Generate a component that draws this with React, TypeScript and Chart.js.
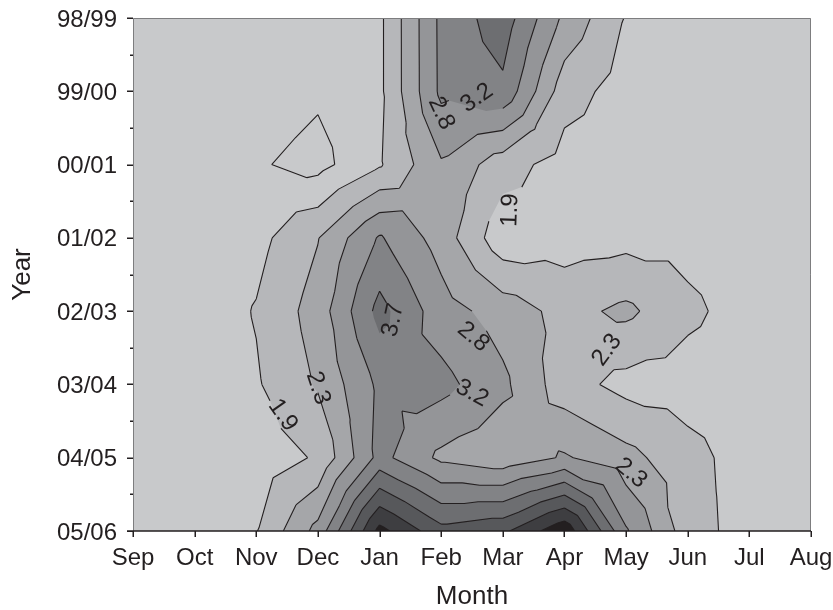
import React, { useEffect, useRef } from 'react';
import { Chart, registerables } from 'chart.js';

Chart.register(...registerables);

// Month categories (x) and season tick labels (y)
const months = ['Sep', 'Oct', 'Nov', 'Dec', 'Jan', 'Feb', 'Mar', 'Apr', 'May', 'Jun', 'Jul', 'Aug'];
const years = ['98/99', '99/00', '00/01', '01/02', '02/03', '03/04', '04/05', '05/06'];

const z9899 = [1.6, 1.6, 1.65, 1.7, 1.8, 3.36, 3.95, 2.7, 1.87, 1.7, 1.65, 1.6];
const z9900 = [1.65, 1.65, 1.7, 1.52, 1.8, 3.35, 3.6, 2.1, 1.7, 1.65, 1.6, 1.6];
const z0001 = [1.65, 1.6, 1.5, 1.3, 1.85, 2.75, 2.1, 1.7, 1.65, 1.6, 1.6, 1.6];
const z0102 = [1.65, 1.6, 1.75, 2.33, 3.3, 2.6, 1.6, 1.7, 1.75, 1.75, 1.65, 1.6];
const z0203 = [1.6, 1.6, 1.93, 2.55, 3.85, 3.0, 2.6, 2.2, 2.45, 2.0, 1.7, 1.6];
const z0304 = [1.6, 1.6, 1.85, 2.4, 3.35, 3.4, 2.9, 2.1, 1.75, 1.7, 1.65, 1.6];
const z0405 = [1.6, 1.6, 1.65, 1.95, 3.4, 2.7, 2.5, 2.85, 2.5, 2.05, 1.7, 1.6];
const z0506 = [1.6, 1.65, 1.88, 2.95, 5.2, 4.3, 4.5, 5.4, 3.3, 2.1, 1.7, 1.6];
const zRows = [z9899, z9900, z0001, z0102, z0203, z0304, z0405, z0506];

// Contour levels and the fill colour of each band (index = levels passed)
const contourLevels = [1.45, 1.9, 2.35, 2.8, 3.25, 3.7, 4.15, 4.6, 5.05];
const bandColors = ['#c8c9cb', '#c8c9cb', '#b6b7ba', '#a5a6a9', '#949598', '#828386', '#6d6e71', '#57585b', '#3e3e41', '#231f20'];

// Contour labels: text, level, position in (month index, season index), angle
const labelTexts = ['1.9', '2.3', '3.7', '2.8', '3.2', '1.9', '2.8', '3.2', '2.3', '2.3'];
const labelLevels = [1.9, 2.35, 3.7, 2.8, 3.25, 1.9, 2.8, 3.25, 2.35, 2.35];
const labelMonthPos = [2.43, 3.0, 4.22, 5.0, 5.58, 6.12, 5.52, 5.5, 7.69, 8.08];
const labelYearPos = [5.42, 5.05, 4.12, 1.3, 1.09, 2.62, 4.35, 5.12, 4.53, 6.21];
const labelAngles = [55, 72, -78, 65, -35, -88, 40, 28, -54, 40];

const FONT = '"Liberation Sans", Arial, Helvetica, sans-serif';
const INK = '#231f20';

type V = { x: number; y: number; z: number };

function clipAbove(poly: V[], L: number): V[] {
  const out: V[] = [];
  for (let i = 0; i < poly.length; i++) {
    const a = poly[i];
    const b = poly[(i + 1) % poly.length];
    const ain = a.z >= L;
    const bin = b.z >= L;
    if (ain) out.push(a);
    if (ain !== bin) {
      const t = (L - a.z) / (b.z - a.z);
      out.push({ x: a.x + t * (b.x - a.x), y: a.y + t * (b.y - a.y), z: L });
    }
  }
  return out;
}

function segment(tri: V[], L: number): number[] | null {
  const pts: number[] = [];
  for (let i = 0; i < 3; i++) {
    const a = tri[i];
    const b = tri[(i + 1) % 3];
    if ((a.z >= L) !== (b.z >= L)) {
      const t = (L - a.z) / (b.z - a.z);
      pts.push(a.x + t * (b.x - a.x), a.y + t * (b.y - a.y));
    }
  }
  return pts.length === 4 ? pts : null;
}

const contourPlugin = {
  id: 'contourFill',
  beforeDatasetsDraw(chart: any) {
    const { ctx, chartArea, scales } = chart;
    const xs = scales.x;
    const ys = scales.y;
    const tris: V[][] = [];
    for (let j = 0; j < zRows.length - 1; j++) {
      for (let i = 0; i < months.length - 1; i++) {
        const p = (ii: number, jj: number): V => ({
          x: xs.getPixelForValue(ii),
          y: ys.getPixelForValue(jj),
          z: zRows[jj][ii],
        });
        const a = p(i, j), b = p(i + 1, j), c = p(i + 1, j + 1), d = p(i, j + 1);
        const m: V = {
          x: xs.getPixelForValue(i + 0.5),
          y: ys.getPixelForValue(j + 0.5),
          z: (a.z + b.z + c.z + d.z) / 4,
        };
        tris.push([a, b, m], [b, c, m], [c, d, m], [d, a, m]);
      }
    }
    ctx.save();
    ctx.beginPath();
    ctx.rect(chartArea.left, chartArea.top, chartArea.right - chartArea.left, chartArea.bottom - chartArea.top);
    ctx.clip();
    ctx.fillStyle = bandColors[0];
    ctx.fillRect(chartArea.left, chartArea.top, chartArea.right - chartArea.left, chartArea.bottom - chartArea.top);
    contourLevels.forEach((L, k) => {
      ctx.beginPath();
      for (const t of tris) {
        const poly = clipAbove(t, L);
        if (poly.length < 3) continue;
        ctx.moveTo(poly[0].x, poly[0].y);
        for (let q = 1; q < poly.length; q++) ctx.lineTo(poly[q].x, poly[q].y);
        ctx.closePath();
      }
      ctx.fillStyle = bandColors[k + 1];
      ctx.fill();
    });
    const lp = labelTexts.map((_, i) => ({
      x: xs.getPixelForValue(labelMonthPos[i]),
      y: ys.getPixelForValue(labelYearPos[i]),
    }));
    ctx.strokeStyle = INK;
    ctx.lineWidth = 1.1;
    ctx.beginPath();
    contourLevels.forEach((L) => {
      for (const t of tris) {
        const s = segment(t, L);
        if (!s) continue;
        const mx = (s[0] + s[2]) / 2;
        const my = (s[1] + s[3]) / 2;
        let hidden = false;
        labelLevels.forEach((lv, i) => {
          if (Math.abs(lv - L) < 1e-6 && Math.hypot(mx - lp[i].x, my - lp[i].y) < 22) hidden = true;
        });
        if (hidden) continue;
        ctx.moveTo(s[0], s[1]);
        ctx.lineTo(s[2], s[3]);
      }
    });
    ctx.stroke();
    ctx.fillStyle = INK;
    ctx.font = `24px ${FONT}`;
    ctx.textAlign = 'center';
    ctx.textBaseline = 'middle';
    labelTexts.forEach((txt, i) => {
      ctx.save();
      ctx.translate(lp[i].x, lp[i].y);
      ctx.rotate((labelAngles[i] * Math.PI) / 180);
      ctx.fillText(txt, 0, 0);
      ctx.restore();
    });
    ctx.restore();
  },
  afterDraw(chart: any) {
    const { ctx, chartArea, scales } = chart;
    const { left, right, top, bottom } = chartArea;
    ctx.save();
    ctx.lineWidth = 1;
    ctx.strokeStyle = '#7d7d7f';
    ctx.beginPath();
    ctx.moveTo(left + 0.5, bottom);
    ctx.lineTo(left + 0.5, top + 0.5);
    ctx.lineTo(right - 0.5, top + 0.5);
    ctx.lineTo(right - 0.5, bottom);
    ctx.stroke();
    ctx.strokeStyle = INK;
    ctx.lineWidth = 1.5;
    ctx.beginPath();
    ctx.moveTo(left - 6, bottom);
    ctx.lineTo(right, bottom);
    for (let j = 0; j < years.length; j++) {
      const py = Math.round(scales.y.getPixelForValue(j)) + 0.25;
      ctx.moveTo(left - 6, py);
      ctx.lineTo(left, py);
      if (j < years.length - 1) {
        const hy = Math.round(scales.y.getPixelForValue(j + 0.5)) + 0.25;
        ctx.moveTo(left - 3, hy);
        ctx.lineTo(left, hy);
      }
    }
    for (let i = 0; i < months.length; i++) {
      const px = Math.round(scales.x.getPixelForValue(i)) + 0.25;
      ctx.moveTo(px, bottom);
      ctx.lineTo(px, bottom + 6);
    }
    ctx.stroke();
    ctx.restore();
  },
};

const noScalePadding = (s: any) => {
  s.paddingTop = 0;
  s.paddingBottom = 0;
  s.paddingLeft = 0;
  s.paddingRight = 0;
};

export default function App() {
  const canvasRef = useRef<HTMLCanvasElement | null>(null);

  useEffect(() => {
    const canvas = canvasRef.current;
    if (!canvas) return;
    const points: { x: number; y: number }[] = [];
    zRows.forEach((row, j) => row.forEach((_, i) => points.push({ x: i, y: j })));
    const chart = new Chart(canvas, {
      type: 'scatter',
      data: { datasets: [{ data: points, pointRadius: 0, pointHoverRadius: 0 }] },
      options: {
        responsive: false,
        animation: false,
        events: [],
        layout: { padding: { top: 18, right: 22, left: 0, bottom: 0 } },
        plugins: { legend: { display: false }, tooltip: { enabled: false } },
        scales: {
          x: {
            type: 'linear',
            min: 0,
            max: 11,
            afterFit: (s: any) => { s.height = 79; noScalePadding(s); },
            grid: { display: false, drawTicks: false },
            border: { display: false },
            ticks: {
              stepSize: 1,
              autoSkip: false,
              maxRotation: 0,
              minRotation: 0,
              padding: 13,
              color: INK,
              font: { family: FONT, size: 24 },
              callback: (v: any) => months[v] ?? '',
            },
            title: {
              display: true,
              text: 'Month',
              color: INK,
              font: { family: FONT, size: 26, lineHeight: 1 },
              padding: { top: 0, bottom: 0 },
            },
          },
          y: {
            type: 'linear',
            reverse: true,
            min: 0,
            max: 7,
            afterFit: (s: any) => { s.width = 133; noScalePadding(s); },
            grid: { display: false, drawTicks: false },
            border: { display: false },
            ticks: {
              stepSize: 1,
              autoSkip: false,
              padding: 16,
              labelOffset: 2,
              color: INK,
              font: { family: FONT, size: 24 },
              callback: (v: any) => years[v] ?? '',
            },
            title: {
              display: true,
              text: 'Year',
              color: INK,
              font: { family: FONT, size: 26, lineHeight: 1 },
              padding: { top: 10, bottom: 0 },
            },
          },
        },
      },
      plugins: [contourPlugin],
    });
    return () => chart.destroy();
  }, []);

  return (
    <div style={{ position: 'absolute', left: 0, top: 0, width: 833, height: 610 }}>
      <canvas ref={canvasRef} width={833} height={610} style={{ display: 'block' }} />
    </div>
  );
}
